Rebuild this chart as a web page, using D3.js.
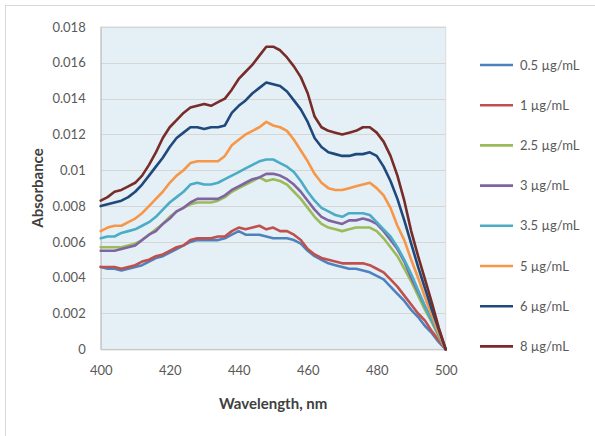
<!DOCTYPE html>
<html><head><meta charset="utf-8">
<script src="https://cdn.jsdelivr.net/npm/d3@7"></script>
<style>body{margin:0;background:#fff}svg{display:block}</style>
</head><body>
<svg id="c" width="595" height="436"></svg>
<script>
const wavelengths = d3.range(400, 501, 2);
const seriesNames = ["0.5 µg/mL","1 µg/mL","2.5 µg/mL","3 µg/mL","3.5 µg/mL","5 µg/mL","6 µg/mL","8 µg/mL"];
const seriesColors = ["#4f81bd","#c0504d","#9bbb59","#8064a2","#4bacc6","#f79646","#1f497d","#772c2a"];
const s05 = [0.0046,0.0045,0.0045,0.0044,0.0045,0.0046,0.0047,0.0049,0.0051,0.0052,0.0054,0.0056,0.0058,0.0060,0.0061,0.0061,0.0061,0.0061,0.0062,0.0064,0.0066,0.0064,0.0064,0.0064,0.0063,0.0062,0.0062,0.0062,0.0061,0.0059,0.0055,0.0052,0.0050,0.0048,0.0047,0.0046,0.0045,0.0045,0.0044,0.0043,0.0041,0.0039,0.0035,0.0031,0.0027,0.0022,0.0018,0.0013,0.0009,0.0004,0];
const s1 = [0.0046,0.0046,0.0046,0.0045,0.0046,0.0047,0.0049,0.0050,0.0052,0.0053,0.0055,0.0057,0.0058,0.0061,0.0062,0.0062,0.0062,0.0063,0.0063,0.0066,0.0068,0.0067,0.0068,0.0069,0.0067,0.0068,0.0066,0.0066,0.0064,0.0061,0.0056,0.0053,0.0051,0.0050,0.0049,0.0048,0.0048,0.0048,0.0048,0.0047,0.0045,0.0043,0.0039,0.0035,0.0030,0.0025,0.0020,0.0016,0.0010,0.0005,0];
const s25 = [0.0057,0.0057,0.0057,0.0057,0.0058,0.0059,0.0061,0.0064,0.0067,0.0070,0.0074,0.0077,0.0079,0.0081,0.0082,0.0082,0.0082,0.0083,0.0085,0.0088,0.0090,0.0092,0.0094,0.0096,0.0094,0.0095,0.0094,0.0092,0.0088,0.0084,0.0079,0.0074,0.0070,0.0068,0.0067,0.0066,0.0067,0.0068,0.0068,0.0068,0.0066,0.0062,0.0057,0.0052,0.0045,0.0038,0.0030,0.0022,0.0015,0.0007,0];
const s3 = [0.0055,0.0055,0.0055,0.0056,0.0057,0.0058,0.0061,0.0064,0.0066,0.0070,0.0073,0.0077,0.0079,0.0082,0.0084,0.0084,0.0084,0.0084,0.0086,0.0089,0.0091,0.0093,0.0095,0.0096,0.0098,0.0098,0.0097,0.0095,0.0092,0.0088,0.0083,0.0078,0.0074,0.0072,0.0071,0.0070,0.0072,0.0072,0.0073,0.0072,0.0070,0.0066,0.0061,0.0056,0.0049,0.0040,0.0032,0.0024,0.0016,0.0008,0];
const s35 = [0.0062,0.0063,0.0063,0.0065,0.0066,0.0067,0.0069,0.0071,0.0074,0.0078,0.0082,0.0085,0.0088,0.0092,0.0093,0.0092,0.0092,0.0093,0.0095,0.0097,0.0099,0.0101,0.0103,0.0105,0.0106,0.0106,0.0104,0.0102,0.0099,0.0094,0.0088,0.0083,0.0079,0.0077,0.0075,0.0074,0.0076,0.0076,0.0076,0.0075,0.0071,0.0067,0.0063,0.0057,0.0050,0.0042,0.0033,0.0024,0.0016,0.0008,0];
const s5 = [0.0066,0.0068,0.0069,0.0069,0.0071,0.0073,0.0076,0.0080,0.0084,0.0088,0.0093,0.0097,0.0100,0.0104,0.0105,0.0105,0.0105,0.0105,0.0108,0.0114,0.0117,0.0120,0.0122,0.0124,0.0127,0.0125,0.0124,0.0122,0.0117,0.0111,0.0105,0.0098,0.0093,0.0090,0.0089,0.0089,0.0090,0.0091,0.0092,0.0093,0.0090,0.0086,0.0079,0.0069,0.0061,0.0050,0.0040,0.0029,0.0019,0.0009,0];
const s6 = [0.0080,0.0081,0.0082,0.0083,0.0085,0.0088,0.0092,0.0097,0.0102,0.0107,0.0113,0.0118,0.0121,0.0124,0.0124,0.0123,0.0124,0.0124,0.0125,0.0132,0.0136,0.0139,0.0143,0.0146,0.0149,0.0148,0.0147,0.0144,0.0139,0.0134,0.0127,0.0118,0.0113,0.0110,0.0109,0.0108,0.0108,0.0109,0.0109,0.0110,0.0108,0.0102,0.0094,0.0084,0.0072,0.0059,0.0046,0.0034,0.0022,0.0011,0];
const s8 = [0.0083,0.0085,0.0088,0.0089,0.0091,0.0093,0.0097,0.0103,0.0110,0.0118,0.0124,0.0128,0.0132,0.0135,0.0136,0.0137,0.0136,0.0138,0.0140,0.0145,0.0151,0.0155,0.0159,0.0164,0.0169,0.0169,0.0167,0.0163,0.0158,0.0152,0.0143,0.0130,0.0124,0.0122,0.0121,0.0120,0.0121,0.0122,0.0124,0.0124,0.0121,0.0116,0.0108,0.0097,0.0083,0.0066,0.0052,0.0039,0.0026,0.0012,0];
const seriesValues = [s05, s1, s25, s3, s35, s5, s6, s8];
const xTicks = [400,420,440,460,480,500];
const yTicks = [0,0.002,0.004,0.006,0.008,0.01,0.012,0.014,0.016,0.018];
const yTickLabels = ["0","0.002","0.004","0.006","0.008","0.01","0.012","0.014","0.016","0.018"];

const svg = d3.select("#c");
const font = "Lato, 'Open Sans', sans-serif";
const L = 100.7, R = 445.7, T = 27, B = 349.3;
const x = d3.scaleLinear().domain([400,500]).range([L,R]);
const y = d3.scaleLinear().domain([0,0.018]).range([B,T]);

svg.append("rect").attr("x",5.5).attr("y",5.5).attr("width",620).attr("height",460)
  .attr("fill","#fff").attr("stroke","#d9d9d9");
svg.append("rect").attr("x",L).attr("y",T).attr("width",R-L).attr("height",B-T)
  .attr("fill","#e4f0f5").attr("stroke","#d9d9d9");

// gridlines
svg.append("g").selectAll("line").data(yTicks.slice(1)).join("line")
  .attr("x1",L).attr("x2",R).attr("y1",d=>Math.round(y(d))+0.5).attr("y2",d=>Math.round(y(d))+0.5)
  .attr("stroke","#d6d6d6").attr("stroke-width",1.2);

// axes
const yAxis = d3.axisLeft(y).tickValues(yTicks).tickSize(0).tickPadding(15)
  .tickFormat((d,i)=>yTickLabels[i]);
const gy = svg.append("g").attr("transform",`translate(${L},0)`).call(yAxis);
gy.select(".domain").attr("stroke","#bfbfbf");
gy.selectAll("text").attr("font-family",font).attr("font-size",13).attr("fill","#595959");

const xAxis = d3.axisBottom(x).tickValues(xTicks).tickSize(0).tickPadding(16).tickFormat(d3.format("d"));
const gx = svg.append("g").attr("transform",`translate(0,${B})`).call(xAxis);
gx.select(".domain").attr("stroke","#bfbfbf");
gx.selectAll("text").attr("font-family",font).attr("font-size",13).attr("fill","#595959");

// lines
const line = d3.line().x((d,i)=>x(wavelengths[i])).y(d=>y(d));
svg.append("g").selectAll("path").data(seriesValues).join("path")
  .attr("d",line).attr("fill","none")
  .attr("stroke",(d,i)=>seriesColors[i]).attr("stroke-width",2.6)
  .attr("stroke-linejoin","round").attr("stroke-linecap","round");

// titles
svg.append("text").attr("x",(L+R)/2).attr("y",409).attr("text-anchor","middle")
  .attr("font-family",font).attr("font-weight","bold").attr("font-size",15).attr("fill","#404040")
  .text("Wavelength, nm");
svg.append("text").attr("transform","translate(43,188) rotate(-90)").attr("text-anchor","middle")
  .attr("font-family",font).attr("font-weight","bold").attr("font-size",15).attr("fill","#404040")
  .text("Absorbance");

// legend
const lg = svg.append("g").selectAll("g").data(seriesNames).join("g")
  .attr("transform",(d,i)=>`translate(480,${65 + i*40.2})`);
lg.append("line").attr("x1",0).attr("x2",33).attr("y1",0).attr("y2",0)
  .attr("stroke",(d,i)=>seriesColors[i]).attr("stroke-width",2.6);
lg.append("text").attr("x",40).attr("y",4.5).attr("font-family",font).attr("font-size",13)
  .attr("fill","#595959").text(d=>d);
</script>
</body></html>
